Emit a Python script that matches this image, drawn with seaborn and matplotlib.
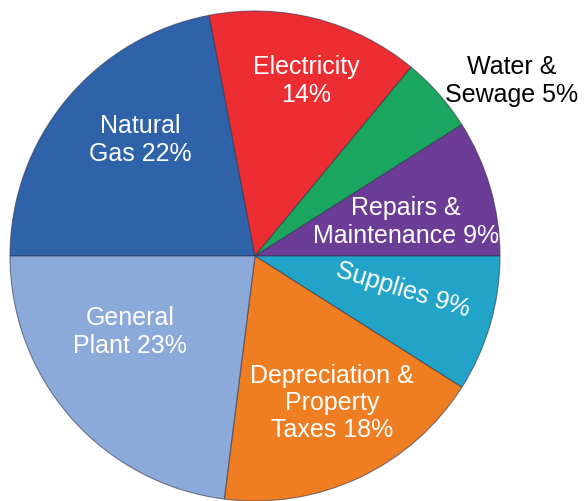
import numpy as np
import matplotlib
matplotlib.use("Agg")
import matplotlib.pyplot as plt
import seaborn as sns

sns.set_theme(style="white")
plt.rcParams["font.family"] = ["Liberation Sans", "DejaVu Sans"]

# data, clockwise from 9 o'clock
categories = ["Natural Gas", "Electricity", "Water & Sewage", "Repairs & Maintenance",
              "Supplies", "Depreciation & Property Taxes", "General Plant"]
shares = [22, 14, 5, 9, 9, 18, 23]
labels = ["Natural\nGas 22%", "Electricity\n14%", "Water &\nSewage 5%",
          "Repairs &\nMaintenance 9%", "Supplies 9%",
          "Depreciation &\nProperty\nTaxes 18%", "General\nPlant 23%"]

colors = sns.color_palette(["#2f63a9", "#ec2d32", "#1ba660", "#6b3d97",
                            "#22a3c8", "#ef7d22", "#8caad9"])

fig = plt.figure(figsize=(5.84, 5.02), dpi=100)
ax = fig.add_axes([0, 0, 1, 1])

wedges, _ = ax.pie(shares, colors=colors, startangle=180, counterclock=False,
                   radius=1.0, wedgeprops=dict(edgecolor=(0.2, 0.2, 0.3, 0.6), linewidth=0.8))

# label positions (pie radius units), taken from the reference layout
pos = [(-0.469, 0.478), (0.208, 0.718), (1.049, 0.718), (0.616, 0.143),
       (0.604, -0.135), (0.314, -0.596), (-0.510, -0.306)]
rot = [0, 0, 0, 0, -17, 0, 0]
txt_col = ["white", "white", "black", "white", "white", "white", "white"]

for lab, (x, y), r, c in zip(labels, pos, rot, txt_col):
    ax.text(x, y, lab, ha="center", va="center", fontsize=18, color=c,
            rotation=r, linespacing=1.18, rotation_mode="anchor")

ax.set_xlim(-255 / 245, (584 - 255) / 245)
ax.set_ylim(-(502 - 257) / 245, 257 / 245)
ax.set_aspect("equal")
ax.axis("off")

fig.savefig("out.png", dpi=100)
